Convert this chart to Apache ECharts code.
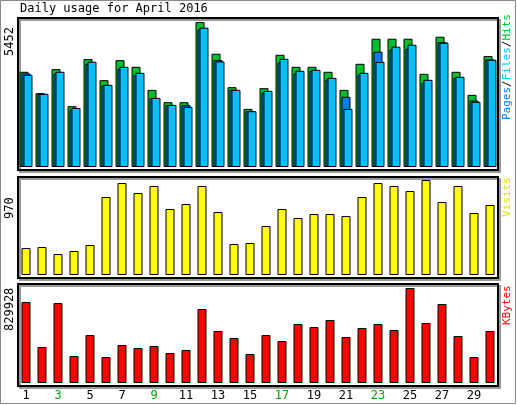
<!DOCTYPE html>
<html><head><meta charset="utf-8">
<script src="https://cdn.jsdelivr.net/npm/echarts@6/dist/echarts.min.js"></script>
<style>html,body{margin:0;padding:0;background:#fff}#c{width:517px;height:405px}</style>
</head><body><div id="c"></div>
<script>
const days = ['1','2','3','4','5','6','7','8','9','10','11','12','13','14','15','16','17','18','19','20','21','22','23','24','25','26','27','28','29','30'];
const weekend = ['2','3','9','10','16','17','23','24','30'];
const hits = [3580,2776,3680,2286,4057,3266,4019,3768,2901,2437,2437,5452,4258,3002,2185,2964,4220,3768,3768,3580,2901,3881,4823,4823,4823,3504,4898,3580,2713,4170];
const pages = [3517,2751,3517,2160,3881,3065,3693,3467,2587,2324,2324,5175,4019,2901,2098,2788,3919,3517,3617,3291,2638,3479,4333,4421,4446,3165,4697,3354,2499,4044];
const files = [3467,2751,3580,2223,3956,3090,3768,3542,2600,2336,2261,5238,3969,2901,2098,2864,4069,3617,3655,3354,2185,3542,3956,4522,4597,3278,4672,3391,2449,4032];
const visits = [276,286,214,245,306,796,939,837,909,674,725,909,643,317,327,500,674,582,623,623,602,796,939,909,858,970,745,909,633,715];
const kbytes = [707600,314500,698900,235900,419300,227100,332000,305800,323200,262100,288300,646500,454300,393100,253300,419300,366900,515400,489200,550400,401900,480500,515400,463000,829928,524200,690100,410600,227100,454300];
const maxHits = 5452, maxVisits = 970, maxK = 829928;

const mono = 'DejaVu Sans Mono';
const chart = echarts.init(document.getElementById('c'));
const panels = [
  {top:18, h:152, below:3, above:4, max:maxHits},
  {top:177, h:101, below:3, above:3, max:maxVisits},
  {top:284, h:102, below:3, above:4, max:maxK}
];
const grids = [], xAxes = [], yAxes = [];
panels.forEach((p,i)=>{
  const per = p.max/(p.h - p.below - p.above);
  grids.push({left:18, width:480, top:p.top, height:p.h, show:true, borderColor:'#000', borderWidth:2, backgroundColor:'#fff', shadowColor:'#999', shadowOffsetX:2, shadowOffsetY:2});
  xAxes.push({type:'category', gridIndex:i, data:days, axisLine:{show:false}, axisTick:{show:false},
    axisLabel:{show:i===2, margin:4, fontFamily:mono, fontSize:12,
      color:(v)=>weekend.includes(v)?'#00a000':'#000'}});
  yAxes.push({type:'value', gridIndex:i, min:-p.below*per, max:p.max+p.above*per, show:false, splitLine:{show:false}});
});
const barStyle = c => ({color:c, borderColor:'#000', borderWidth:1});
chart.setOption({
  animation:false,
  grid:grids, xAxis:xAxes, yAxis:yAxes,
  series:[
    {type:'bar', xAxisIndex:0, yAxisIndex:0, data:hits, barWidth:9, barGap:'-78%', itemStyle:barStyle('#00c030')},
    {type:'bar', xAxisIndex:0, yAxisIndex:0, data:pages, barWidth:9, barGap:'-78%', itemStyle:barStyle('#0080ff')},
    {type:'bar', xAxisIndex:0, yAxisIndex:0, data:files, barWidth:9, barGap:'-78%', itemStyle:barStyle('#00c0ff')},
    {type:'bar', xAxisIndex:1, yAxisIndex:1, data:visits, barWidth:9, itemStyle:barStyle('#ffff00')},
    {type:'bar', xAxisIndex:2, yAxisIndex:2, data:kbytes, barWidth:9, itemStyle:barStyle('#ff0000')}
  ],
  graphic:[
    {type:'rect', shape:{x:0.5,y:0.5,width:515,height:403}, style:{fill:null, stroke:'#888', lineWidth:1}, z:-10},
    {type:'text', x:20, y:3, style:{text:'Daily usage for April 2016', font:'12px '+mono, fill:'#000'}},
    {type:'text', x:4, y:56, rotation:Math.PI/2, style:{text:String(maxHits), font:'12px '+mono, fill:'#000'}},
    {type:'text', x:4, y:219, rotation:Math.PI/2, style:{text:String(maxVisits), font:'12px '+mono, fill:'#000'}},
    {type:'text', x:4, y:331, rotation:Math.PI/2, style:{text:String(maxK), font:'12px '+mono, fill:'#000'}},
    {type:'text', x:502, y:120, rotation:Math.PI/2, style:{text:'{p|Pages}{s|/}{f|Files}{s|/}{h|Hits}', font:'11px '+mono,
      rich:{p:{fill:'#0080ff',font:'11px '+mono},f:{fill:'#00c0ff',font:'11px '+mono},h:{fill:'#00c030',font:'11px '+mono},s:{fill:'#000',font:'11px '+mono}}}},
    {type:'text', x:502, y:217, rotation:Math.PI/2, style:{text:'Visits', font:'11px '+mono, fill:'#e0e000'}},
    {type:'text', x:502, y:325, rotation:Math.PI/2, style:{text:'KBytes', font:'11px '+mono, fill:'#ff0000'}}
  ]
});
</script></body></html>
